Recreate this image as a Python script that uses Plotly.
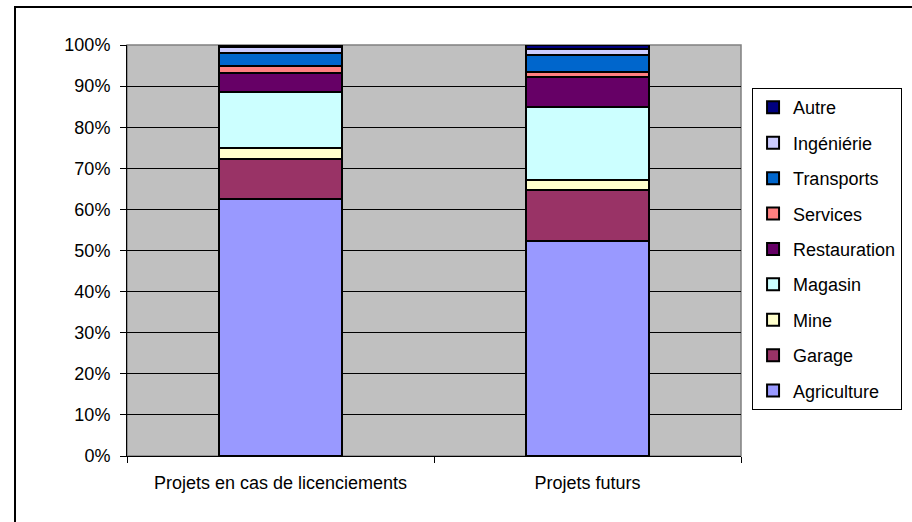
import plotly.graph_objects as go

# Share of planned activities by sector (%)
categories = ["Projets en cas de licenciements", "Projets futurs"]
sectors = ["Agriculture", "Garage", "Mine", "Magasin", "Restauration",
           "Services", "Transports", "Ingéniérie", "Autre"]
agriculture = [62.6, 52.3]
garage = [9.7, 12.5]
mine = [2.6, 2.4]
magasin = [13.6, 17.8]
restauration = [4.6, 7.2]
services = [1.8, 1.3]
transports = [3.2, 4.1]
ingenierie = [1.3, 1.4]
autre = [0.6, 1.0]
y_ticks = list(range(0, 101, 10))

series = [agriculture, garage, mine, magasin, restauration,
          services, transports, ingenierie, autre]
colors = ["#9999FF", "#993366", "#FFFFCC", "#CCFFFF", "#660066",
          "#FF8080", "#0066CC", "#CCCCFF", "#000080"]

FONT = "Liberation Sans, Arial, sans-serif"

fig = go.Figure()
n = len(sectors)
for i, (name, vals, col) in enumerate(zip(sectors, series, colors)):
    fig.add_trace(go.Bar(
        x=categories, y=vals, name=name, legendgroup=name,
        legendrank=n - i,
        marker=dict(color=col, line=dict(color="black", width=2)),
        hoverinfo="name+y",
    ))

fig.update_layout(
    width=912, height=522,
    margin=dict(l=127, r=171, t=45, b=66, autoexpand=False),
    barmode="stack", bargap=0.6,
    paper_bgcolor="white", plot_bgcolor="#C0C0C0",
    font=dict(family=FONT, size=18, color="black"),
    legend=dict(
        x=1.018, y=0.895, xanchor="left", yanchor="top",
        traceorder="grouped", tracegroupgap=9,
        bordercolor="black", borderwidth=1, bgcolor="white",
        font=dict(family=FONT, size=18),
        itemsizing="constant",
    ),
    xaxis=dict(
        type="category", showgrid=False, tickson="boundaries",
        ticks="outside", ticklen=6, tickcolor="black",
        showline=True, linecolor="black", linewidth=1,
        ticklabelstandoff=10, zeroline=False,
    ),
    yaxis=dict(
        range=[0, 100], tickvals=y_ticks,
        ticktext=[f"{v}%" for v in y_ticks],
        ticks="outside", ticklen=6, tickcolor="black",
        showgrid=True, gridcolor="black", gridwidth=1,
        showline=True, linecolor="black", linewidth=1,
        zeroline=False, ticklabelstandoff=6,
    ),
    shapes=[
        # grey frame of the plotting area
        dict(type="rect", xref="paper", yref="paper", x0=0, x1=1, y0=0, y1=1,
             line=dict(color="#808080", width=1.5), layer="below"),
        # outer chart frame
        dict(type="rect", xref="paper", yref="paper",
             x0=-0.1824, x1=2.0, y0=-1.0, y1=1.0925,
             line=dict(color="black", width=2), fillcolor="rgba(0,0,0,0)"),
    ],
)

fig.write_html("out.html")
